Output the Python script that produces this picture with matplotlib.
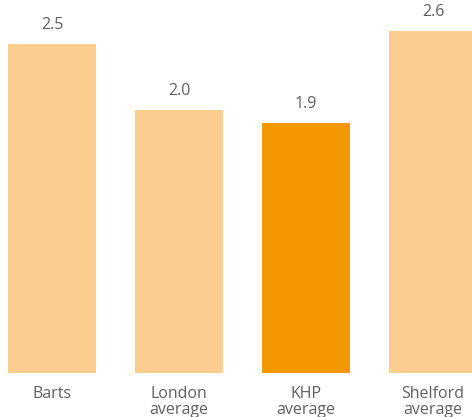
import matplotlib.pyplot as plt
import numpy as np

CATEGORIES = ["Barts", "London\naverage", "KHP\naverage", "Shelford\naverage"]
VALUES = [2.5, 2.0, 1.9, 2.6]
HIGHLIGHT = "KHP\naverage"

LIGHT = "#FBCD8F"
DARK = "#F39800"
TEXT = "#606060"


def main():
    plt.rcParams["font.family"] = ["Open Sans", "DejaVu Sans"]

    fig = plt.figure(figsize=(4.72, 4.17), dpi=100)
    ax = fig.add_axes([0, 0.1055, 1, 0.8945])

    x = np.arange(len(CATEGORIES))
    colors = [DARK if c == HIGHLIGHT else LIGHT for c in CATEGORIES]
    bars = ax.bar(x, VALUES, width=0.693, color=colors)

    for bar, v in zip(bars, VALUES):
        ax.annotate(
            f"{v:.1f}",
            (bar.get_x() + bar.get_width() / 2, v),
            xytext=(0, 8),
            textcoords="offset points",
            ha="center",
            va="bottom",
            fontsize=11.5,
            color=TEXT,
        )

    ax.set_xlim(-0.409, 3.307)
    ax.set_ylim(0, 2.836)
    ax.set_xticks(x)
    ax.set_xticklabels(CATEGORIES, fontsize=11.5, color=TEXT, linespacing=1.05)
    ax.tick_params(axis="x", length=0, pad=9)
    ax.set_yticks([])
    for s in ax.spines.values():
        s.set_visible(False)

    fig.savefig("out.png", dpi=100)
    plt.close(fig)


if __name__ == "__main__":
    main()
